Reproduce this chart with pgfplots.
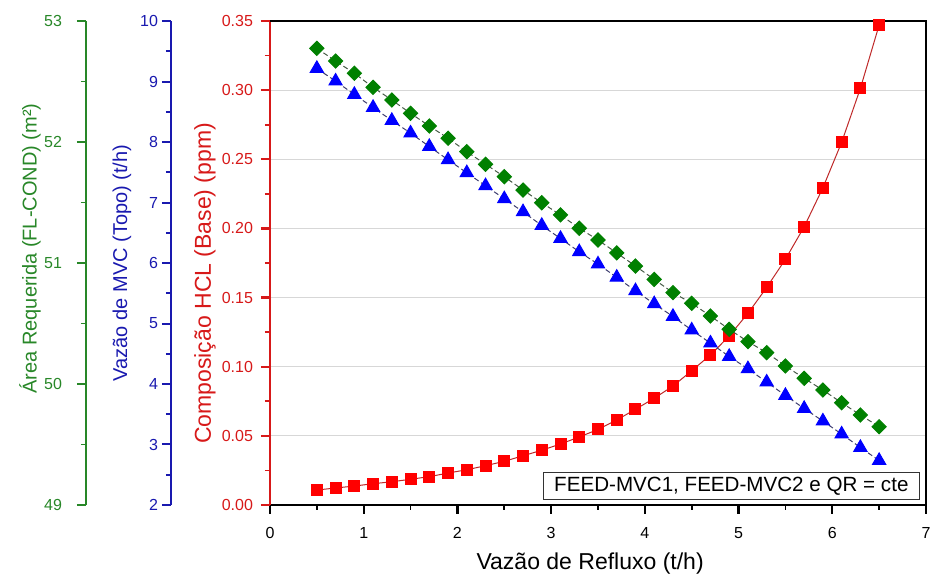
\documentclass[border=0pt]{standalone}
\usepackage{pgfplots}
\pgfplotsset{compat=1.18}
\usepackage{pgfplotstable}
\usepackage{fontspec}
\setmainfont{Liberation Sans}
\definecolor{cgreen}{RGB}{0,128,0}
\definecolor{cgreenax}{RGB}{40,135,40}
\definecolor{cblue}{RGB}{0,0,255}
\definecolor{cblueax}{RGB}{25,25,175}
\definecolor{cred}{RGB}{255,0,0}
\definecolor{credax}{RGB}{215,25,25}
\definecolor{gridgray}{RGB}{215,215,215}

\pgfplotstableread{
x y
0.5 0.0108
0.7 0.0123
0.9 0.0137
1.1 0.0154
1.3 0.0168
1.5 0.0186
1.7 0.0205
1.9 0.0231
2.1 0.0255
2.3 0.0284
2.5 0.0316
2.7 0.0356
2.9 0.0396
3.1 0.0441
3.3 0.0492
3.5 0.0546
3.7 0.0615
3.9 0.0692
4.1 0.0772
4.3 0.0860
4.5 0.0971
4.7 0.1085
4.9 0.1222
5.1 0.1386
5.3 0.1573
5.5 0.1777
5.7 0.2012
5.9 0.2294
6.1 0.2623
6.3 0.3013
6.5 0.3471
}\redtable

\pgfplotstableread{
x y
0.5 9.215
0.7 9.006
0.9 8.785
1.1 8.570
1.3 8.355
1.5 8.147
1.7 7.925
1.9 7.706
2.1 7.491
2.3 7.276
2.5 7.061
2.7 6.846
2.9 6.620
3.1 6.405
3.3 6.185
3.5 5.982
3.7 5.763
3.9 5.540
4.1 5.325
4.3 5.116
4.5 4.891
4.7 4.676
4.9 4.454
5.1 4.251
5.3 4.031
5.5 3.810
5.7 3.595
5.9 3.387
6.1 3.172
6.3 2.950
6.5 2.735
}\bluetable

\pgfplotstableread{
x y
0.5 52.774
0.7 52.669
0.9 52.568
1.1 52.452
1.3 52.347
1.5 52.237
1.7 52.132
1.9 52.031
2.1 51.920
2.3 51.816
2.5 51.713
2.7 51.603
2.9 51.498
3.1 51.397
3.3 51.287
3.5 51.190
3.7 51.083
3.9 50.975
4.1 50.864
4.3 50.755
4.5 50.667
4.7 50.562
4.9 50.452
5.1 50.350
5.3 50.259
5.5 50.149
5.7 50.047
5.9 49.950
6.1 49.845
6.3 49.744
6.5 49.647
}\greentable

\pgfplotsset{
  base/.style={
    scale only axis, height=242pt, anchor=south west,
    enlargelimits=false, xmax=7,
    /pgf/number format/assume math mode=true,
    tick label style={font=\fontsize{8}{9}\selectfont},
    major tick length=4.5pt, minor tick length=2.5pt, tick align=outside,
    clip=false,
  },
}

\begin{document}
\begin{tikzpicture}
\useasboundingbox (-135pt,-36.5pt) rectangle (331.5pt,252.5pt);

% main axis (red)
\begin{axis}[base, at={(0pt,0pt)}, width=328pt,
  xmin=0, xmax=7, ymin=0, ymax=0.35,
  axis x line*=bottom, axis y line*=left,
  xtick={0,1,2,3,4,5,6,7}, minor x tick num=1,
  ytick={0,0.05,0.1,0.15,0.2,0.25,0.3,0.35}, minor y tick num=1,
  yticklabel style={/pgf/number format/.cd, fixed, fixed zerofill, precision=2, /tikz/.cd, color=credax, xshift=-0.5pt},
  xticklabel style={color=black, yshift=-3pt},
  y axis line style={credax, line width=1.4pt},
  x axis line style={black, line width=1.4pt},
  major y tick style={credax, line width=1.1pt},
  minor y tick style={credax, line width=0.9pt},
  major x tick style={black, line width=1.1pt},
  minor x tick style={black, line width=0.9pt},
  ymajorgrids, grid style={gridgray, line width=0.6pt},
  xlabel={Vazão de Refluxo (t/h)},
  xlabel style={font=\fontsize{11.5}{13}\selectfont, at={(axis description cs:0.488,-0.12)}, anchor=center},
  ylabel={Composição HCL (Base) (ppm)},
  ylabel style={font=\fontsize{11.5}{13}\selectfont, color=credax, at={(axis description cs:-0.099,0.458)}, anchor=center, rotate=0},
]
\draw[black, line width=1.4pt] (rel axis cs:0,1) -- (rel axis cs:1,1) -- (rel axis cs:1,0);
\addplot[color={rgb,255:red,190;green,40;blue,40}, line width=0.5pt, mark=square*, mark size=2.75pt,
  mark options={solid, fill=cred, draw=cred}] table {\redtable};
\node[draw=black!80, line width=0.6pt, fill=white, anchor=south east, inner xsep=5.5pt, inner ysep=0pt,
  minimum height=13.6pt, font=\fontsize{10.3}{12}\selectfont]
  at (rel axis cs:0.991,0.0103) {FEED-MVC1, FEED-MVC2 e QR = cte};
\end{axis}

% blue axis
\begin{axis}[base, at={(-49.5pt,0pt)}, width=377.5pt,
  xmin=-1.0564, xmax=7, ymin=2, ymax=10,
  hide x axis, axis y line*=left,
  ytick={2,3,4,5,6,7,8,9,10}, minor y tick num=1,
  yticklabel style={color=cblueax, xshift=1.5pt},
  y axis line style={cblueax, line width=1.1pt},
  major y tick style={cblueax, line width=1pt},
  minor y tick style={cblueax, line width=0.9pt},
  ylabel={Vazão de MVC (Topo) (t/h)},
  ylabel style={font=\fontsize{10}{12}\selectfont, color=cblueax, at={(axis description cs:-0.065,0.5)}, anchor=center},
]
\addplot[color={rgb,255:red,60;green,60;blue,110}, line width=0.5pt, dash pattern=on 2.5pt off 1.5pt,
  mark=triangle*, mark size=3.8pt, mark options={solid, fill=cblue, draw=cblue}] table {\bluetable};
\end{axis}

% green axis
\begin{axis}[base, at={(-92pt,0pt)}, width=420pt,
  xmin=-1.9634, xmax=7, ymin=49, ymax=53,
  hide x axis, axis y line*=left,
  ytick={49,50,51,52,53}, minor y tick num=1,
  yticklabel style={color=cgreenax, xshift=-4pt},
  y axis line style={cgreenax, line width=1.1pt},
  major y tick style={cgreenax, line width=1pt},
  minor y tick style={cgreenax, line width=0.9pt},
  ylabel={Área Requerida (FL-COND) (m²)},
  ylabel style={font=\fontsize{10}{12}\selectfont, color=cgreenax, at={(axis description cs:-0.0667,0.53)}, anchor=center},
]
\addplot[color={rgb,255:red,70;green,90;blue,70}, line width=0.5pt, dash pattern=on 2.5pt off 1.5pt,
  mark=square*, mark size=2.5pt, mark options={solid, rotate=45, fill=cgreen, draw=cgreen}] table {\greentable};
\end{axis}
\end{tikzpicture}
\end{document}
